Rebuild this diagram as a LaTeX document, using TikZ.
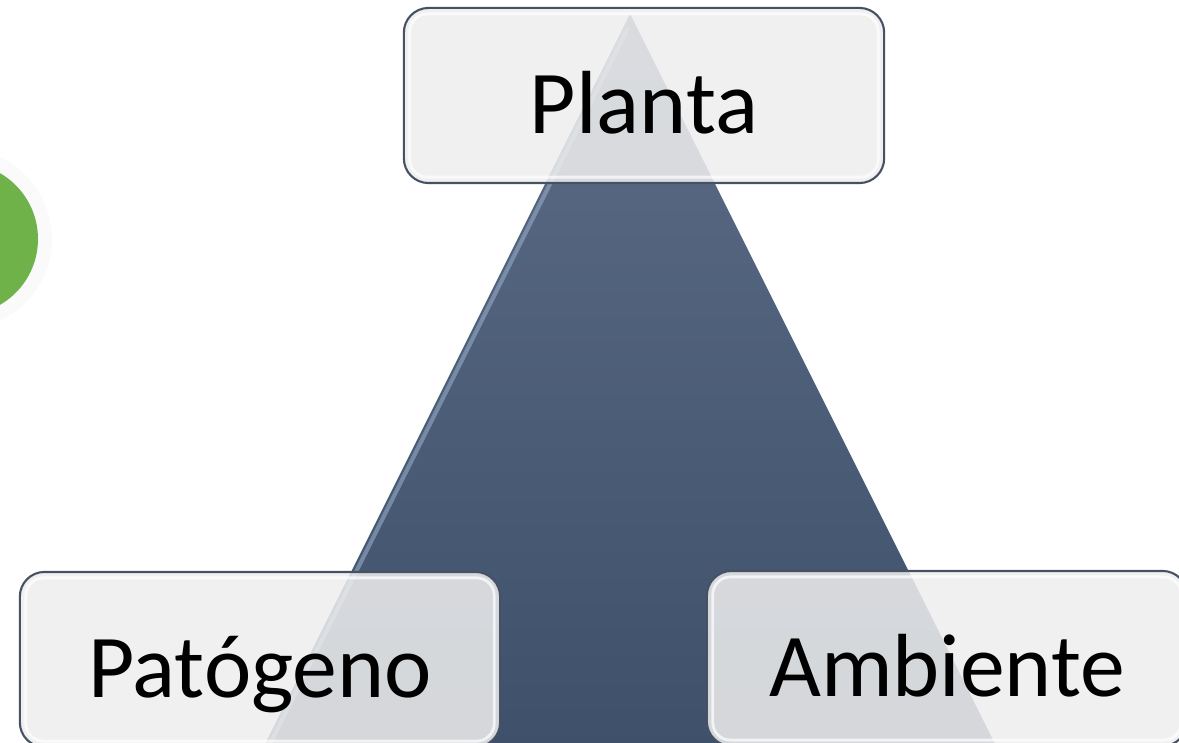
\documentclass[tikz,border=0pt]{standalone}
\usepackage{fontspec}
\setmainfont{Carlito}
\definecolor{triTop}{RGB}{92,108,134}
\definecolor{triBot}{RGB}{60,78,104}
\definecolor{triEdge}{RGB}{150,170,198}
\definecolor{boxFill}{RGB}{238,238,238}
\definecolor{boxLine}{RGB}{70,82,100}
\definecolor{leafGreen}{RGB}{112,178,74}
\tikzset{
  factor/.style={draw=boxLine, line width=0.6pt, rounded corners=7pt,
    fill=boxFill, fill opacity=0.86, text opacity=1,
    minimum width=4.8cm, minimum height=1.75cm,
    text height=0.75cm, text depth=0pt,
    font=\fontsize{25.5}{30}\selectfont},
  gloss/.style={draw=white, opacity=0.7, line width=0.8pt, rounded corners=5pt}
}
\begin{document}
\begin{tikzpicture}[x=0.01cm, y=-0.01cm]
    \useasboundingbox (0,0) rectangle (1179,743);
    \clip (0,0) rectangle (1179,743);
    % green disc on the left
    \fill[black!2] (-38,239) circle (90);
    \fill[leafGreen] (-38,239) circle (76);
    % triangle
    \shade[top color=triTop, bottom color=triBot] (630,14) -- (237,800) -- (1023,800) -- cycle;
    \draw[triEdge, line width=1.2pt, opacity=0.6] (628,28) -- (247,790);
    % the three factors
    \node[factor] (planta) at (644,95.5) {Planta};
    \node[factor] (patogeno) at (260,659.5) {Patógeno};
    \node[factor] (ambiente) at (947,658.5) {Ambiente};
    \foreach \n in {planta,patogeno,ambiente}
      \draw[gloss] ([shift={(7,7)}]\n.north west) rectangle ([shift={(-7,-7)}]\n.south east);
\end{tikzpicture}
\end{document}
